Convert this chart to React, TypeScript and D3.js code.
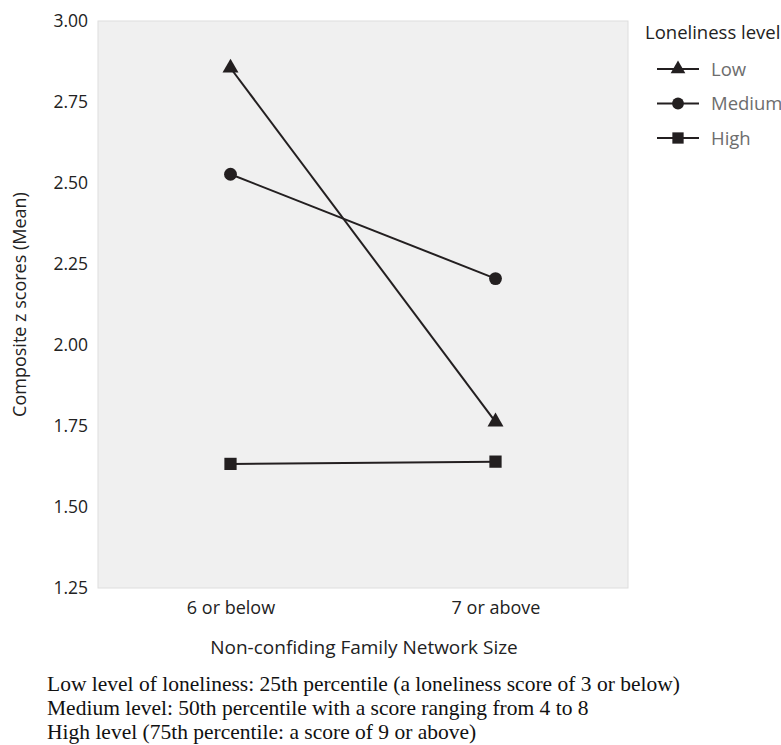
import * as d3 from 'd3';
import React, { useRef, useEffect } from 'react';

const categories = ['6 or below', '7 or above'];
const levels = ['Low', 'Medium', 'High'];
const lowValues = [2.855, 1.763];
const mediumValues = [2.527, 2.205];
const highValues = [1.633, 1.64];
const yTicks = [1.25, 1.5, 1.75, 2.0, 2.25, 2.5, 2.75, 3.0];
const notes = [
  'Low level of loneliness: 25th percentile (a loneliness score of 3 or below)',
  'Medium level: 50th percentile with a score ranging from 4 to 8',
  'High level (75th percentile: a score of 9 or above)',
];

export default function App() {
  const ref = useRef<SVGSVGElement>(null);
  const width = 781;
  const height = 745;
  const margin = { top: 21, left: 98, right: 628, bottom: 588 };
  const font = "'Open Sans', sans-serif";

  useEffect(() => {
    const svg = d3.select(ref.current);
    svg.selectAll('*').remove();

    const x = d3.scalePoint<string>().domain(categories).range([margin.left, margin.right]).padding(0.5);
    const y = d3.scaleLinear().domain([1.25, 3.0]).range([margin.bottom, margin.top]);

    // plot background
    svg.append('rect')
      .attr('x', margin.left)
      .attr('y', margin.top)
      .attr('width', margin.right - margin.left)
      .attr('height', margin.bottom - margin.top)
      .attr('fill', '#f0f0f0')
      .attr('stroke', '#dedede')
      .attr('stroke-width', 1);

    // y ticks
    const yAxis = d3.axisLeft(y).tickValues(yTicks).tickFormat(d3.format('.2f')).tickSize(0).tickPadding(10);
    const gy = svg.append('g').attr('transform', `translate(${margin.left},0)`).call(yAxis);
    gy.select('.domain').remove();
    gy.selectAll('text').attr('font-family', font).attr('font-size', 17.5).attr('fill', '#222');

    // x ticks
    const xAxis = d3.axisBottom(x).tickSize(0).tickPadding(13);
    const gx = svg.append('g').attr('transform', `translate(0,${margin.bottom})`).call(xAxis);
    gx.select('.domain').remove();
    gx.selectAll('text').attr('font-family', font).attr('font-size', 18).attr('fill', '#222');

    // axis titles
    svg.append('text')
      .attr('x', 364)
      .attr('y', 654)
      .attr('text-anchor', 'middle')
      .attr('font-family', font)
      .attr('font-size', 19)
      .attr('fill', '#222')
      .text('Non-confiding Family Network Size');

    svg.append('text')
      .attr('transform', `translate(26,${(margin.top + margin.bottom) / 2}) rotate(-90)`)
      .attr('text-anchor', 'middle')
      .attr('font-family', font)
      .attr('font-size', 18)
      .attr('fill', '#222')
      .text('Composite z scores (Mean)');

    const series = [
      { name: levels[0], values: lowValues, shape: d3.symbolTriangle, size: 110 },
      { name: levels[1], values: mediumValues, shape: d3.symbolCircle, size: 130 },
      { name: levels[2], values: highValues, shape: d3.symbolSquare, size: 150 },
    ];

    const line = d3.line<number>()
      .x((d, i) => x(categories[i]) as number)
      .y(d => y(d));

    series.forEach(s => {
      svg.append('path')
        .attr('d', line(s.values))
        .attr('fill', 'none')
        .attr('stroke', '#231f20')
        .attr('stroke-width', 2);
      s.values.forEach((v, i) => {
        svg.append('path')
          .attr('d', d3.symbol().type(s.shape).size(s.size)())
          .attr('transform', `translate(${x(categories[i])},${y(v)})`)
          .attr('fill', '#231f20');
      });
    });

    // legend
    svg.append('text')
      .attr('x', 645)
      .attr('y', 39)
      .attr('font-family', font)
      .attr('font-size', 18.5)
      .attr('fill', '#222')
      .text('Loneliness level');

    series.forEach((s, i) => {
      const ly = 69 + i * 34.5;
      svg.append('line')
        .attr('x1', 657).attr('x2', 699)
        .attr('y1', ly).attr('y2', ly)
        .attr('stroke', '#231f20')
        .attr('stroke-width', 2);
      svg.append('path')
        .attr('d', d3.symbol().type(s.shape).size(s.size * 0.85)())
        .attr('transform', `translate(678,${ly})`)
        .attr('fill', '#231f20');
      svg.append('text')
        .attr('x', 711)
        .attr('y', ly + 6.5)
        .attr('font-family', font)
        .attr('font-size', 18.5)
        .attr('fill', '#6d6d6d')
        .text(s.name);
    });

    // footnotes
    notes.forEach((n, i) => {
      svg.append('text')
        .attr('x', 47)
        .attr('y', 691 + i * 24)
        .attr('font-family', "'Liberation Serif', 'Times New Roman', serif")
        .attr('font-size', 21.5)
        .attr('fill', '#111')
        .text(n);
    });
  }, []);

  return (
    <svg
      ref={ref}
      width={width}
      height={height}
      style={{ position: 'absolute', left: 0, top: 0, background: '#fff' }}
    />
  );
}
